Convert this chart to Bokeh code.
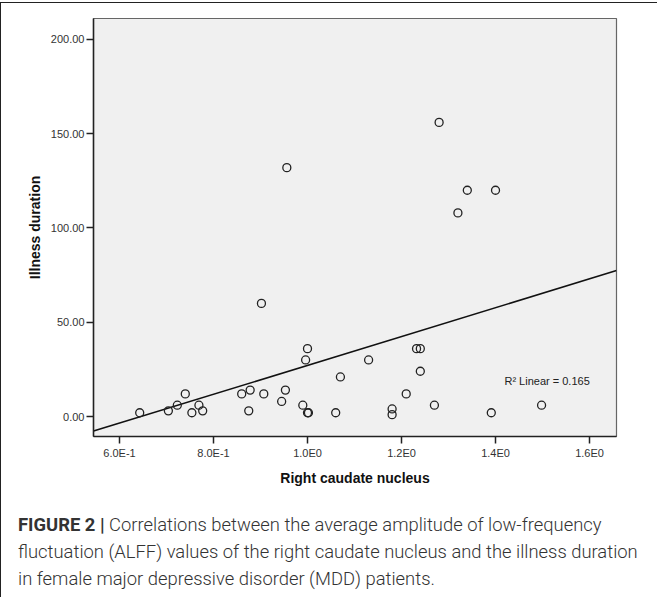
from bokeh.plotting import figure
from bokeh.models import FixedTicker, Label, Div, Range1d
from bokeh.layouts import column
from bokeh.embed import file_html
from bokeh.resources import INLINE

# Data
caudate = [0.643, 0.704, 0.723, 0.740, 0.754, 0.769, 0.777,
           0.860, 0.878, 0.875, 0.907, 0.945, 0.953, 0.990,
           1.000, 1.002, 1.060, 1.070,
           0.902, 1.000, 0.996, 1.130,
           1.232, 1.240, 1.240, 1.210, 1.180, 1.180,
           1.270, 1.391, 1.498,
           1.280, 0.956, 1.340, 1.400, 1.320]
duration = [2, 3, 6, 12, 2, 6, 3,
            12, 14, 3, 12, 8, 14, 6,
            2, 2, 2, 21,
            60, 36, 30, 30,
            36, 36, 24, 12, 4, 1,
            6, 2, 6,
            156, 132, 120, 120, 108]

fit_intercept = -49.4
fit_slope = 76.5
r2_text = "R\u00b2 Linear = 0.165"

x_ticks = [0.6, 0.8, 1.0, 1.2, 1.4, 1.6]
x_tick_labels = ["6.0E-1", "8.0E-1", "1.0E0", "1.2E0", "1.4E0", "1.6E0"]
y_ticks = [0, 50, 100, 150, 200]
y_tick_labels = ["0.00", "50.00", "100.00", "150.00", "200.00"]

x_title = "Right caudate nucleus"
y_title = "Illness duration"

caption_html = ("<b style='font-weight:700'>FIGURE 2 |</b> Correlations between the average amplitude of low-frequency<br>"
                "fluctuation (ALFF) values of the right caudate nucleus and the illness duration<br>"
                "in female major depressive disorder (MDD) patients.")

x0, x1 = 0.5447, 1.6574
y0, y1 = -10.6, 211.1

p = figure(frame_width=523, frame_height=418,
           min_border_left=92, min_border_top=15, min_border_right=25, min_border_bottom=55,
           x_range=Range1d(x0, x1), y_range=Range1d(y0, y1),
           output_backend="svg", toolbar_location=None,
           background_fill_color="#f0f0f0", border_fill_color="white")
p.grid.visible = False
p.outline_line_color = "#666666"
p.outline_line_width = 1.2

for ax in (p.xaxis[0], p.yaxis[0]):
    ax.axis_line_color = "#222222"
    ax.axis_line_width = 1.5
    ax.major_tick_line_color = "#222222"
    ax.major_tick_line_width = 1.5
    ax.major_tick_out = 7
    ax.major_tick_in = 0
    ax.minor_tick_out = 0
    ax.minor_tick_in = 0
    ax.major_label_text_font = "Liberation Sans"
    ax.major_label_text_font_size = "11px"
    ax.major_label_text_color = "#333333"
    ax.axis_label_text_font = "Liberation Sans"
    ax.axis_label_text_font_style = "bold"
    ax.axis_label_text_font_size = "14px"
    ax.axis_label_text_color = "#111111"

p.xaxis[0].ticker = FixedTicker(ticks=x_ticks)
p.xaxis[0].major_label_overrides = {t: l for t, l in zip(x_ticks, x_tick_labels)}
p.yaxis[0].ticker = FixedTicker(ticks=y_ticks)
p.yaxis[0].major_label_overrides = {t: l for t, l in zip(y_ticks, y_tick_labels)}
p.xaxis[0].axis_label = x_title
p.yaxis[0].axis_label = y_title
p.xaxis[0].major_label_standoff = 3
p.yaxis[0].major_label_standoff = 2
p.xaxis[0].axis_label_standoff = 8
p.yaxis[0].axis_label_standoff = 5

# fit line across the axis range
fx = [x0, x1]
fy = [fit_intercept + fit_slope * v for v in fx]
p.line(fx, fy, line_color="#111111", line_width=1.6)

p.scatter(caudate, duration, marker="circle", size=8, fill_color=None,
          line_color="#222222", line_width=1.3)

p.add_layout(Label(x=1.419, y=19.1, text=r2_text, text_font="Liberation Sans",
                   text_font_size="11px", text_baseline="middle", text_color="#222222"))

div = Div(text=caption_html, width=648,
          styles={"font-family": "Roboto", "font-size": "18.4px", "line-height": "27px",
                  "color": "#333333", "font-weight": "300", "white-space": "nowrap",
                  "padding-left": "12px", "padding-top": "15px"})

layout = column(p, div, styles={"border-left": "1.5px solid #222222",
                                "border-top": "1.5px solid #222222",
                                "margin-top": "2px"})

html = file_html(layout, INLINE)
html = html.replace("<head>", "<head><style>html, body { overflow: hidden; }</style>", 1)
open("out.html", "w").write(html)
